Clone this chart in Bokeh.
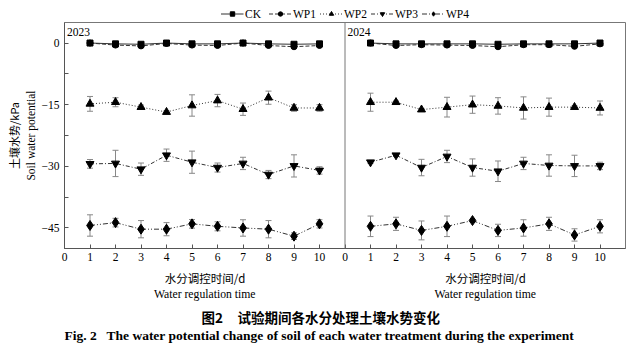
from bokeh.plotting import figure
from bokeh.layouts import column
from bokeh.models import (Range1d, FixedTicker, Legend, LegendItem, Span, LinearAxis)
from bokeh.core.properties import value
from bokeh.embed import file_html
from bokeh.resources import INLINE

days = [1, 2, 3, 4, 5, 6, 7, 8, 9, 10]
x_tick_labels = ["0", "1", "2", "3", "4", "5", "6", "7", "8", "9", "10"]
y_ticks = [0, -15, -30, -45]
y_minor_ticks = [-7.5, -22.5, -37.5]
series_names = ["CK", "WP1", "WP2", "WP3", "WP4"]
years = ["2023", "2024"]

ck_2023 = [0, -0.2, -0.3, 0, -0.2, -0.2, 0, -0.2, -0.3, -0.2]
wp1_2023 = [0, -0.5, -0.7, -0.1, -0.5, -0.6, 0, -0.6, -0.9, -0.6]
wp2_2023 = [-14.8, -14.4, -15.6, -16.8, -15.2, -14.0, -16.1, -13.3, -15.8, -15.8]
wp2_2023_err = [1.8, 1.1, 0.5, 0.3, 2.6, 1.5, 1.5, 1.6, 0.8, 0.8]
wp3_2023 = [-29.4, -29.3, -30.7, -27.3, -29.0, -30.3, -29.3, -32.0, -29.9, -31.0]
wp3_2023_err = [1.05, 3.2, 1.5, 1.5, 2.7, 1.1, 1.5, 1.0, 2.7, 0.9]
wp4_2023 = [-44.4, -43.7, -45.3, -45.3, -44.0, -44.6, -45.0, -45.3, -47.0, -44.0]
wp4_2023_err = [2.6, 1.05, 2.1, 1.6, 1.05, 1.1, 2.0, 2.1, 0.8, 1.0]

ck_2024 = [0, -0.2, -0.2, -0.2, -0.2, -0.3, -0.2, -0.2, -0.2, 0]
wp1_2024 = [0, -0.6, -0.4, -0.5, -0.6, -0.9, -0.4, -0.4, -0.8, -0.2]
wp2_2024 = [-14.4, -14.4, -16.2, -15.6, -15.0, -15.3, -15.8, -15.6, -15.6, -15.8]
wp2_2024_err = [2.2, 0.3, 0.3, 2.4, 2.1, 2.0, 2.7, 2.2, 0.3, 1.7]
wp3_2024 = [-29.0, -27.3, -30.3, -27.6, -30.3, -31.2, -29.3, -29.8, -29.9, -29.9]
wp3_2024_err = [0.3, 0.3, 2.0, 1.5, 2.1, 2.5, 1.5, 2.6, 2.6, 0.9]
wp4_2024 = [-44.6, -44.0, -45.6, -44.6, -43.2, -45.6, -45.0, -44.0, -46.7, -44.6]
wp4_2024_err = [2.5, 1.6, 2.3, 2.5, 0.3, 1.5, 2.0, 1.6, 1.5, 1.6]

SERIF = "Liberation Serif"
CJK = "Noto Sans CJK SC"
W = 640
BL, BR = 64, 15
PX_PER_X = (W - BL - BR) / 22.0
NAN = float("nan")

styles = [
    ("solid", "square", 6),
    ("4 2", "circle", 6),
    ("1 2", "triangle", 8),
    ("4 2 1 2", "inverted_triangle", 8),
    ("5 2 1 2 1 2", "diamond", 10),
]

# ---------------- top strip: legend ----------------
top = figure(width=W, height=22, output_backend="svg", toolbar_location=None,
             x_range=Range1d(0, 1), y_range=Range1d(0, 1),
             x_axis_location=None, y_axis_location=None,
             min_border_left=BL, min_border_right=BR, min_border_top=5, min_border_bottom=0)
top.grid.visible = False
top.outline_line_color = None
items = []
for i in range(5):
    dash, marker, size = styles[i]
    ln = top.line(x=[NAN], y=[NAN], line_color="#333333", line_width=1, line_dash=dash)
    sc = top.scatter(x=[NAN], y=[NAN], marker=marker, size=size, fill_color="black", line_color="black")
    items.append(LegendItem(label=series_names[i], renderers=[ln, sc]))
legend = Legend(items=items, orientation="horizontal", location="center",
                glyph_width=23, glyph_height=11, label_height=11, label_standoff=2, spacing=3,
                padding=0, margin=0, border_line_color=None, background_fill_alpha=0,
                label_text_font=SERIF, label_text_font_size="11.5px", label_text_color="black")
top.add_layout(legend)

# ---------------- main chart ----------------
p = figure(width=W, height=246, output_backend="svg", toolbar_location=None,
           x_range=Range1d(0, 22), y_range=Range1d(-50, 5),
           min_border_left=BL, min_border_right=BR, min_border_top=0, min_border_bottom=20)
p.extra_x_ranges = {"right": Range1d(-11, 11)}
p.grid.visible = False
p.outline_line_color = "#777777"

xa = p.xaxis[0]
xa.ticker = FixedTicker(ticks=list(range(0, 22)), minor_ticks=[])
overrides = {}
for i in range(11):
    overrides[i] = x_tick_labels[i]
    overrides[11 + i] = x_tick_labels[i]
xa.major_label_overrides = overrides
xa.major_tick_in = 4
xa.major_tick_out = 0
xa.minor_tick_in = 0
xa.minor_tick_out = 0
xa.major_label_standoff = 4
xa.axis_line_color = "#555555"
xa.major_tick_line_color = "#555555"
xa.major_label_text_font = SERIF
xa.major_label_text_font_size = "11.5px"
xa.major_label_text_color = "black"

ya = p.yaxis[0]
ya.ticker = FixedTicker(ticks=y_ticks, minor_ticks=y_minor_ticks)
ya.major_tick_in = 4
ya.major_tick_out = 0
ya.minor_tick_in = 4
ya.minor_tick_out = 0
ya.major_label_standoff = 5
ya.axis_line_color = "#555555"
ya.major_tick_line_color = "#555555"
ya.minor_tick_line_color = "#555555"
ya.major_label_text_font = SERIF
ya.major_label_text_font_size = "11.5px"
ya.major_label_text_color = "black"
ya.axis_label = "Soil water potential"
ya.axis_label_text_font = SERIF
ya.axis_label_text_font_size = "11.5px"
ya.axis_label_text_font_style = "normal"
ya.axis_label_text_color = "black"
ya.axis_label_standoff = 2

ya2 = LinearAxis(axis_label="土壤水势/kPa", axis_label_text_font=CJK,
                 axis_label_text_font_size="11px", axis_label_text_font_style="normal",
                 axis_label_text_color="black",
                 axis_label_standoff=0, axis_line_color=None, major_tick_line_color=None,
                 minor_tick_line_color=None, major_label_text_font_size="0px",
                 major_label_standoff=0, major_tick_in=0, major_tick_out=0,
                 minor_tick_in=0, minor_tick_out=0, ticker=FixedTicker(ticks=[]))
p.add_layout(ya2, "left")

p.add_layout(Span(location=11, dimension="height", line_color="#777777", line_width=1))


def draw_panel(fig, vals, errs, range_name):
    order = [1, 0, 2, 3, 4]
    for i in order:
        dash, marker, size = styles[i]
        y = vals[i]
        e = errs[i]
        if e is not None:
            lo = [a - b for a, b in zip(y, e)]
            hi = [a + b for a, b in zip(y, e)]
            fig.segment(x0=days, y0=lo, x1=days, y1=hi, line_color="#888888", line_width=1,
                        x_range_name=range_name)
            fig.scatter(x=days, y=lo, marker="dash", size=6, line_color="#888888", line_width=1,
                        x_range_name=range_name)
            fig.scatter(x=days, y=hi, marker="dash", size=6, line_color="#888888", line_width=1,
                        x_range_name=range_name)
        fig.line(x=days, y=y, line_color="#333333", line_width=1, line_dash=dash,
                 x_range_name=range_name)
        fig.scatter(x=days, y=y, marker=marker, size=size, fill_color="black",
                    line_color="black", x_range_name=range_name)


draw_panel(p, [ck_2023, wp1_2023, wp2_2023, wp3_2023, wp4_2023],
           [None, None, wp2_2023_err, wp3_2023_err, wp4_2023_err], "default")
draw_panel(p, [ck_2024, wp1_2024, wp2_2024, wp3_2024, wp4_2024],
           [None, None, wp2_2024_err, wp3_2024_err, wp4_2024_err], "right")

p.text(x=[0.1, 11.1], y=[2.8, 2.8], text=years, text_font=value(SERIF), text_font_size="11.5px",
       text_align="left", text_baseline="middle", text_color="black")

# ---------------- bottom strip: axis titles and caption ----------------
# its frame is aligned with the main chart's frame, so x is in page pixels (BL .. W-BR)
H_BOT = 89
bot = figure(width=W, height=H_BOT, output_backend="svg", toolbar_location=None,
             x_range=Range1d(BL, W - BR), y_range=Range1d(H_BOT, 0),
             x_axis_location=None, y_axis_location=None,
             min_border_left=BL, min_border_right=BR, min_border_top=0, min_border_bottom=0)
bot.grid.visible = False
bot.outline_line_color = None


def txt(x, y, t, font, size, style="normal", align="center"):
    bot.text(x=[x], y=[y], text=[t], text_font=value(font), text_font_size=size,
             text_font_style=style, text_align=align, text_baseline="middle",
             text_color="black")


left_c = BL + 5.5 * PX_PER_X
right_c = BL + 16.5 * PX_PER_X
txt(left_c, 9, "水分调控时间/d", CJK, "11.5px")
txt(right_c, 9, "水分调控时间/d", CJK, "11.5px")
txt(left_c, 26, "Water regulation time", SERIF, "11.7px")
txt(right_c, 26, "Water regulation time", SERIF, "11.7px")
txt(201, 48, "图2", CJK, "13.5px", "bold", "left")
txt(237, 48, "试验期间各水分处理土壤水势变化", CJK, "13.5px", "bold", "left")
txt(64, 67, "Fig. 2", SERIF, "13.5px", "bold", "left")
txt(106, 67, "The water potential change of soil of each water treatment during the experiment",
    SERIF, "13.5px", "bold", "left")

layout = column(top, p, bot, spacing=0)
open("out.html", "w").write(file_html(layout, INLINE))
